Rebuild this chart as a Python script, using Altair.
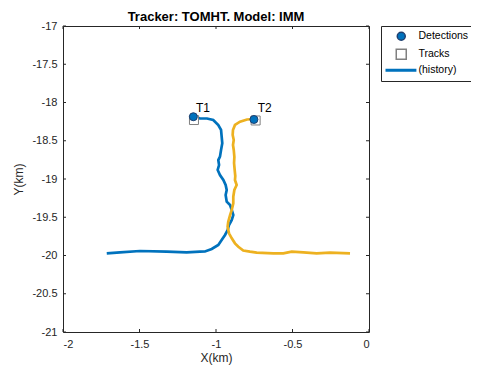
import altair as alt
import pandas as pd

# Track histories (km)
t1_x = [-1.150, -1.105, -1.059, -1.018, -0.985, -0.967, -0.963, -0.959, -0.967, -0.974,
        -0.985, -0.980, -0.989, -0.974, -0.952, -0.937, -0.930, -0.937, -0.930, -0.908,
        -0.897, -0.887, -0.897, -0.915, -0.924, -0.941, -0.963, -0.985, -1.028, -1.072,
        -1.105, -1.192, -1.322, -1.497, -1.627, -1.714]
t1_y = [-18.190, -18.207, -18.209, -18.229, -18.294, -18.359, -18.447, -18.533, -18.621, -18.708,
        -18.752, -18.817, -18.882, -18.948, -19.013, -19.078, -19.144, -19.209, -19.297, -19.340,
        -19.405, -19.471, -19.536, -19.601, -19.667, -19.732, -19.797, -19.863, -19.915, -19.948,
        -19.950, -19.958, -19.950, -19.941, -19.958, -19.971]
t2_x = [-0.752, -0.797, -0.843, -0.876, -0.889, -0.891, -0.884, -0.889, -0.884, -0.880,
        -0.882, -0.878, -0.874, -0.876, -0.865, -0.880, -0.887, -0.887, -0.897, -0.908,
        -0.920, -0.924, -0.915, -0.897, -0.876, -0.854, -0.822, -0.778, -0.734, -0.625,
        -0.560, -0.505, -0.429, -0.342, -0.255, -0.124]
t2_y = [-18.216, -18.222, -18.251, -18.294, -18.359, -18.425, -18.490, -18.556, -18.621, -18.712,
        -18.791, -18.882, -18.961, -19.013, -19.078, -19.144, -19.231, -19.318, -19.405, -19.471,
        -19.558, -19.624, -19.710, -19.775, -19.841, -19.885, -19.935, -19.950, -19.963, -19.971,
        -19.971, -19.950, -19.958, -19.971, -19.963, -19.971]

track_names = ["T1", "T2"]
track_colors = ["#0072BD", "#EDB120"]
det_x = [-1.148, -0.752]
det_y = [-18.186, -18.222]
trk_x = [-1.144, -0.741]
trk_y = [-18.229, -18.235]

x_ticks = [-2, -1.5, -1, -0.5, 0]
y_ticks = [-17, -17.5, -18, -18.5, -19, -19.5, -20, -20.5, -21]

legend_items = ["Detections", "Tracks", "(history)"]
legend_shapes = [
    "M1.5,0A1,1,0,1,1,3.5,0A1,1,0,1,1,1.5,0Z",
    "M1.25,-1.25H3.75V1.25H1.25Z",
    "M-1.25,-0.2H6.1V0.2H-1.25Z",
]
legend_fill = ["#0072BD", "#FFFFFF", "#0072BD"]
legend_stroke = ["#1F3F6F", "#808080", "#0072BD"]

hist = pd.DataFrame(
    [{"track": "T1", "i": i, "x": x, "y": y} for i, (x, y) in enumerate(zip(t1_x, t1_y))]
    + [{"track": "T2", "i": i, "x": x, "y": y} for i, (x, y) in enumerate(zip(t2_x, t2_y))]
)
dets = pd.DataFrame({"x": det_x, "y": det_y})
trks = pd.DataFrame({"x": trk_x, "y": trk_y, "label": track_names})
leg_df = pd.DataFrame({"item": legend_items})

xs = alt.Scale(domain=[-2, 0], nice=False, zero=False)
ys = alt.Scale(domain=[-21, -17], nice=False, zero=False)
xax = alt.Axis(values=x_ticks, labelExpr="'' + datum.value", ticks=False, domain=False,
               grid=False, labelPadding=6, titlePadding=3, title="X(km)", labelOverlap=False)
yax = alt.Axis(values=y_ticks, labelExpr="'' + datum.value", ticks=False, domain=False,
               grid=False, labelPadding=6, titlePadding=6, title="Y(km)", labelOverlap=False)


def X(field):
    return alt.X(field, scale=xs, axis=xax, title="X(km)")


def Y(field):
    return alt.Y(field, scale=ys, axis=yax, title="Y(km)")


lines = alt.Chart(hist).mark_line(strokeWidth=2.7).encode(
    x=X("x:Q"), y=Y("y:Q"),
    detail="track:N",
    order="i:Q",
    color=alt.Color("track:N", scale=alt.Scale(domain=track_names, range=track_colors), legend=None),
)

track_pts = alt.Chart(trks).mark_point(shape="square", size=81, filled=True, fill="#FFFFFF",
                                       stroke="#808080", strokeWidth=1, opacity=1).encode(
    x=X("x:Q"), y=Y("y:Q"))
det_pts = alt.Chart(dets).mark_point(shape="circle", size=64, filled=True, fill="#0072BD",
                                     stroke="#1F3F6F", strokeWidth=1, opacity=1).encode(
    x=X("x:Q"), y=Y("y:Q"))

leg = alt.Legend(title=None, orient="right", offset=12, padding=5, strokeColor="#262626",
                 fillColor="white", labelFontSize=10.5, labelColor="#000000", rowPadding=2,
                 labelOffset=22, symbolSize=64, symbolOpacity=1)

# legend carrier (draws no marks; only its scales feed the legend)
legend_layer = alt.Chart(leg_df).mark_point(size=64, filled=True).encode(
    shape=alt.Shape("item:N", scale=alt.Scale(domain=legend_items, range=legend_shapes), legend=leg),
    fill=alt.Fill("item:N", scale=alt.Scale(domain=legend_items, range=legend_fill), legend=leg),
    stroke=alt.Stroke("item:N", scale=alt.Scale(domain=legend_items, range=legend_stroke), legend=leg),
).transform_filter("false")

labels = alt.Chart(trks).mark_text(
    align="left", baseline="bottom", dx=2, dy=-5, fontSize=12, color="#000000", font="Liberation Sans"
).encode(x=X("x:Q"), y=Y("y:Q"), text="label:N")

# inward tick marks (MATLAB style)
xt = pd.DataFrame({"v": x_ticks})
yt = pd.DataFrame({"v": y_ticks})
tick_col = "#262626"
xb = alt.Chart(xt).mark_rule(color=tick_col).encode(
    x=X("v:Q"), y=alt.value(306), y2=alt.value(303))
xtop = alt.Chart(xt).mark_rule(color=tick_col).encode(
    x=X("v:Q"), y=alt.value(0), y2=alt.value(3))
yl = alt.Chart(yt).mark_rule(color=tick_col).encode(
    y=Y("v:Q"), x=alt.value(0), x2=alt.value(3))
yr = alt.Chart(yt).mark_rule(color=tick_col).encode(
    y=Y("v:Q"), x=alt.value(306), x2=alt.value(303))

chart = alt.layer(lines, xb, xtop, yl, yr, track_pts, det_pts, labels, legend_layer).properties(
    width=306, height=306,
    title=alt.Title("Tracker: TOMHT. Model: IMM", fontSize=13, fontWeight="bold",
                    font="Liberation Sans", color="#000000", offset=-4),
    padding={"left": 55, "top": 18, "right": 102, "bottom": 40},
    autosize=alt.AutoSizeParams(type="none"),
).configure_view(
    fill="#B9E3F2", stroke="#262626", strokeWidth=1
).configure_axis(
    labelFont="Liberation Sans", titleFont="Liberation Sans", labelFontSize=11,
    titleFontSize=12, titleFontWeight="normal", labelColor="#262626", titleColor="#262626"
).configure_axisY(
    labelOverlap=False
).configure_legend(
    labelFont="Liberation Sans"
)

chart.save("out.html", embed_options={"renderer": "svg", "actions": False})
